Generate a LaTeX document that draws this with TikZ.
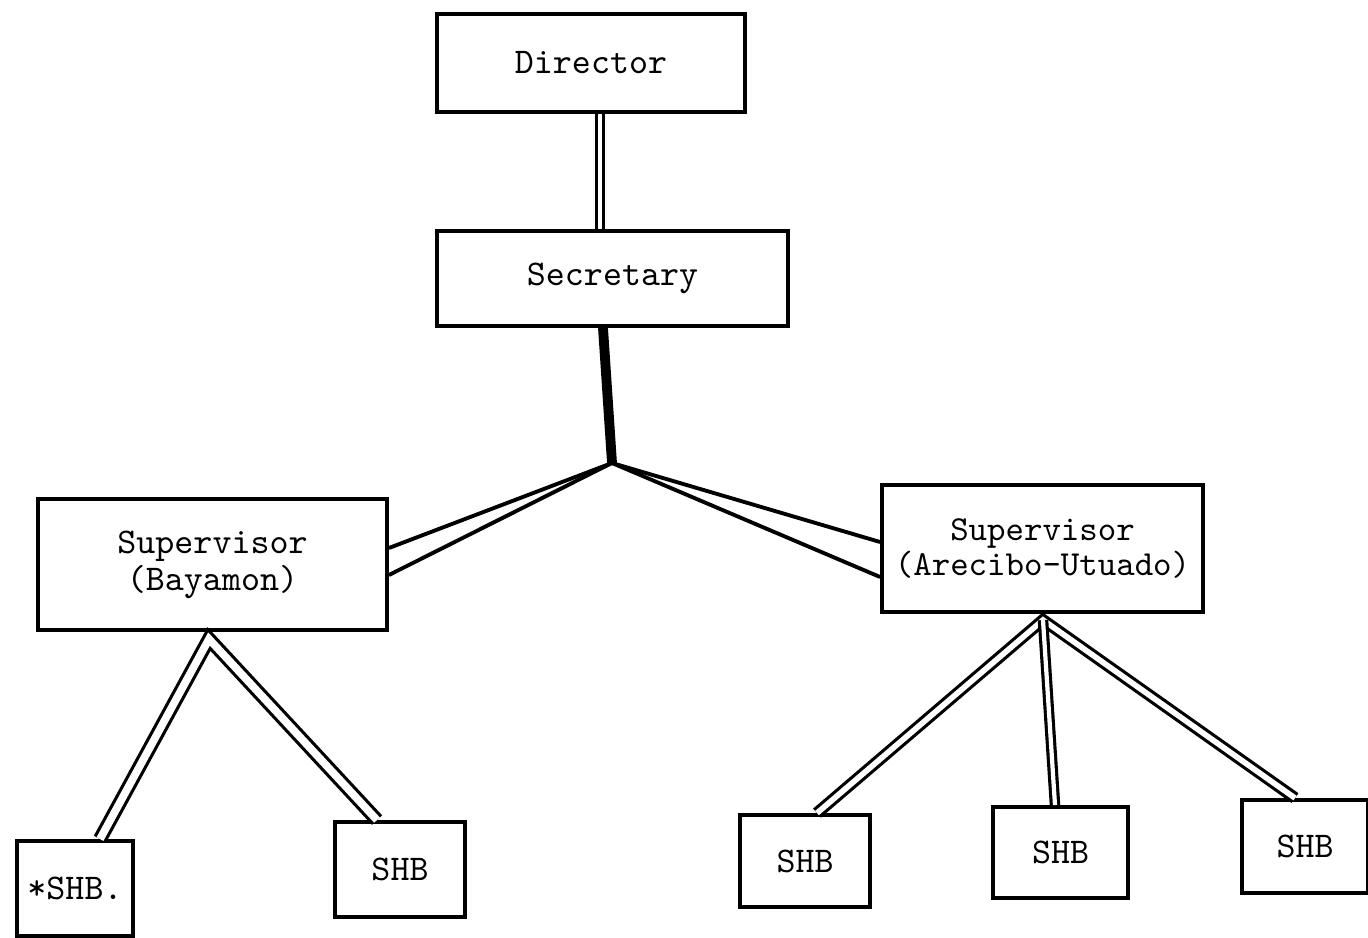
\documentclass[tikz,border=0pt]{standalone}
\usetikzlibrary{positioning,calc}

\tikzset{
  office/.style={draw, line width=1.1pt, inner sep=0pt, align=center,
    font=\ttfamily\fontsize{10.3}{10.5}\selectfont},
  dbl/.style={line width=0.9pt, double, double distance=#1, line join=miter},
  dbl/.default=1.6pt,
  wedge/.style={line width=1.1pt}
}

\begin{document}
\begin{tikzpicture}[x=1cm,y=1cm]
\useasboundingbox (0,0) rectangle (13.68,9.37);
\node[office, minimum width=3.08cm, minimum height=0.98cm] (dir) at (5.91,8.74) {Director};
\node[office, minimum width=3.51cm, minimum height=0.95cm] (sec) at (6.125,6.585) {Secretary};
\coordinate (hub) at (6.12,4.74);
\node[office, minimum width=3.49cm, minimum height=1.31cm] (bay) at (2.125,3.725) {Supervisor\\(Bayamon)};
\node[office, minimum width=3.21cm, minimum height=1.27cm,
      font=\ttfamily\fontsize{10}{10}\selectfont] (are) at (10.425,3.885) {Supervisor\\(Arecibo-Utuado)};
\coordinate (baytop) at (2.09,2.98);
\coordinate (aretop) at (10.43,3.17);
\node[office, minimum width=1.16cm, minimum height=0.95cm] (shbA) at (0.75,0.485) {*SHB.};
\node[office, minimum width=1.30cm, minimum height=0.95cm] (shbB) at (4.00,0.675) {SHB};
\node[office, minimum width=1.30cm, minimum height=0.92cm] (shbC) at (8.05,0.76) {SHB};
\node[office, minimum width=1.35cm, minimum height=0.91cm] (shbD) at (10.605,0.845) {SHB};
\node[office, minimum width=1.26cm, minimum height=0.93cm] (shbE) at (13.05,0.905) {SHB};

\draw[dbl=1.2pt] (dir.south -| 6.00,0) -- (sec.north -| 6.00,0);
\draw[line width=2.8pt] (sec.south -| 6.03,0) -- (hub);
\draw[wedge] (hub) -- (bay.east |- 3.85,3.89);
\draw[wedge] (hub) -- (bay.east |- 3.85,3.62);
\draw[wedge] (hub) -- (are.west |- 8.80,3.95);
\draw[wedge] (hub) -- (are.west |- 8.80,3.60);
\draw[dbl=2.2pt] (shbA.north -| 1.00,0) -- (baytop) -- (shbB.north -| 3.77,0);
\draw[dbl] (shbC.north -| 8.17,0) -- (aretop) -- (shbE.north -| 12.95,0);
\draw[dbl=1.2pt] (aretop) -- (shbD.north -| 10.55,0);
\end{tikzpicture}
\end{document}
